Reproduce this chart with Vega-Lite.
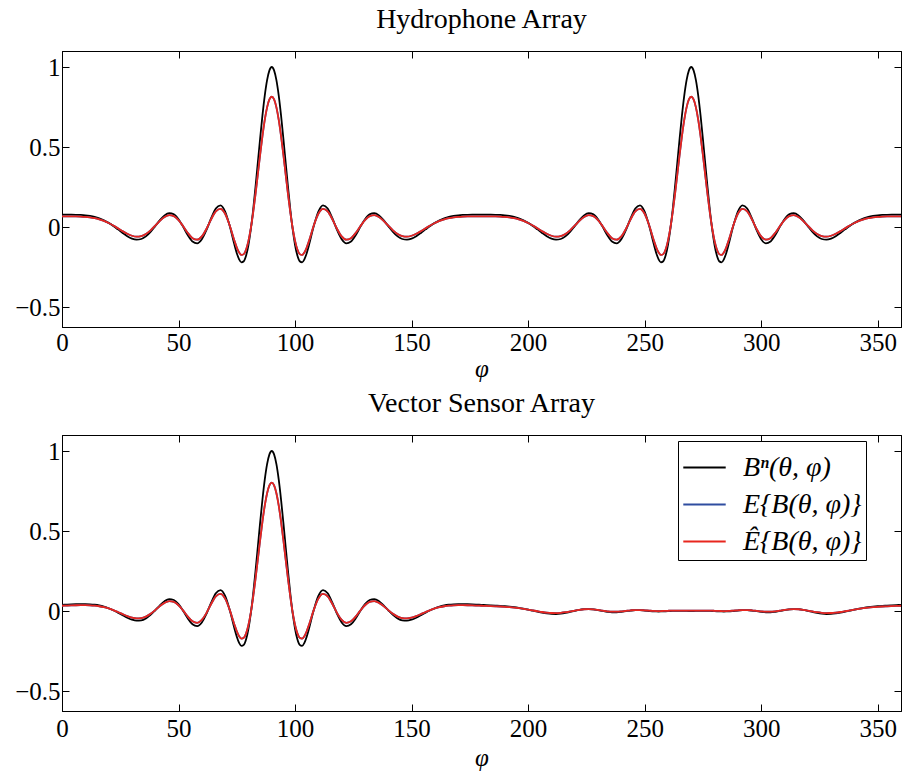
{
"$schema": "https://vega.github.io/schema/vega-lite/v6.json",
"background": "white",
"padding": {"left": 14, "top": 5, "right": 0, "bottom": 0},
"spacing": 7,
"resolve": {"scale": {"color": "independent"}, "legend": {"color": "independent"}},
"config": {
  "font": "Liberation Serif, Times New Roman, DejaVu Serif, serif",
  "view": {"stroke": "black", "strokeWidth": 1},
  "axis": {"grid": false, "labelFont": "Liberation Serif, Times New Roman, DejaVu Serif, serif", "labelFontSize": 25, "labelColor": "black", "titleFont": "Liberation Serif, Times New Roman, DejaVu Serif, serif", "titleFontSize": 25, "titleColor": "black", "titleFontWeight": "normal", "tickColor": "black", "domainColor": "black", "tickSize": -7, "labelFlush": false},
  "title": {"font": "Liberation Serif, Times New Roman, DejaVu Serif, serif", "fontSize": 28, "fontWeight": "normal", "color": "black", "anchor": "middle", "frame": "group"},
  "legend": {"labelFont": "Liberation Serif, Times New Roman, DejaVu Serif, serif"},
  "line": {"strokeWidth": 1.8}
},
"data": {"values": [
{"p":0,"h":0.0769,"hr":0.0663,"v":0.0385,"vr":0.0328},
{"p":2,"h":0.0769,"hr":0.0663,"v":0.0398,"vr":0.0338},
{"p":4,"h":0.0768,"hr":0.0662,"v":0.0411,"vr":0.0349},
{"p":6,"h":0.0764,"hr":0.0659,"v":0.0422,"vr":0.0358},
{"p":8,"h":0.0754,"hr":0.0651,"v":0.0429,"vr":0.0363},
{"p":10,"h":0.0733,"hr":0.0634,"v":0.0430,"vr":0.0364},
{"p":12,"h":0.0694,"hr":0.0602,"v":0.0419,"vr":0.0355},
{"p":14,"h":0.0633,"hr":0.0553,"v":0.0393,"vr":0.0334},
{"p":16,"h":0.0542,"hr":0.0479,"v":0.0346,"vr":0.0297},
{"p":18,"h":0.0417,"hr":0.0378,"v":0.0273,"vr":0.0238},
{"p":20,"h":0.0257,"hr":0.0248,"v":0.0172,"vr":0.0158},
{"p":22,"h":0.0065,"hr":0.0093,"v":0.0045,"vr":0.0056},
{"p":24,"h":-0.0150,"hr":-0.0082,"v":-0.0106,"vr":-0.0065},
{"p":26,"h":-0.0371,"hr":-0.0261,"v":-0.0267,"vr":-0.0194},
{"p":28,"h":-0.0572,"hr":-0.0423,"v":-0.0420,"vr":-0.0316},
{"p":30,"h":-0.0723,"hr":-0.0546,"v":-0.0542,"vr":-0.0414},
{"p":32,"h":-0.0791,"hr":-0.0601,"v":-0.0605,"vr":-0.0464},
{"p":34,"h":-0.0750,"hr":-0.0568,"v":-0.0585,"vr":-0.0448},
{"p":36,"h":-0.0585,"hr":-0.0434,"v":-0.0464,"vr":-0.0351},
{"p":38,"h":-0.0305,"hr":-0.0207,"v":-0.0246,"vr":-0.0177},
{"p":40,"h":0.0054,"hr":0.0084,"v":0.0044,"vr":0.0055},
{"p":42,"h":0.0425,"hr":0.0384,"v":0.0355,"vr":0.0304},
{"p":44,"h":0.0724,"hr":0.0626,"v":0.0613,"vr":0.0510},
{"p":46,"h":0.0866,"hr":0.0741,"v":0.0745,"vr":0.0616},
{"p":48,"h":0.0789,"hr":0.0679,"v":0.0688,"vr":0.0570},
{"p":50,"h":0.0482,"hr":0.0430,"v":0.0426,"vr":0.0361},
{"p":52,"h":0.0005,"hr":0.0044,"v":0.0004,"vr":0.0023},
{"p":54,"h":-0.0515,"hr":-0.0377,"v":-0.0466,"vr":-0.0353},
{"p":56,"h":-0.0911,"hr":-0.0698,"v":-0.0833,"vr":-0.0646},
{"p":58,"h":-0.1024,"hr":-0.0789,"v":-0.0946,"vr":-0.0737},
{"p":60,"h":-0.0769,"hr":-0.0583,"v":-0.0717,"vr":-0.0554},
{"p":62,"h":-0.0184,"hr":-0.0109,"v":-0.0173,"vr":-0.0118},
{"p":64,"h":0.0552,"hr":0.0487,"v":0.0524,"vr":0.0439},
{"p":66,"h":0.1161,"hr":0.0980,"v":0.1111,"vr":0.0909},
{"p":68,"h":0.1357,"hr":0.1139,"v":0.1308,"vr":0.1066},
{"p":70,"h":0.0969,"hr":0.0825,"v":0.0940,"vr":0.0772},
{"p":72,"h":0.0045,"hr":0.0076,"v":0.0044,"vr":0.0055},
{"p":74,"h":-0.1116,"hr":-0.0864,"v":-0.1094,"vr":-0.0855},
{"p":75,"h":-0.1635,"hr":-0.1284,"v":-0.1607,"vr":-0.1266},
{"p":76,"h":-0.2020,"hr":-0.1596,"v":-0.1990,"vr":-0.1572},
{"p":77,"h":-0.2207,"hr":-0.1748,"v":-0.2179,"vr":-0.1723},
{"p":78,"h":-0.2141,"hr":-0.1694,"v":-0.2118,"vr":-0.1674},
{"p":79,"h":-0.1785,"hr":-0.1406,"v":-0.1769,"vr":-0.1395},
{"p":80,"h":-0.1123,"hr":-0.0870,"v":-0.1114,"vr":-0.0871},
{"p":81,"h":-0.0167,"hr":-0.0095,"v":-0.0166,"vr":-0.0113},
{"p":82,"h":0.1047,"hr":0.0888,"v":0.1042,"vr":0.0854},
{"p":83,"h":0.2456,"hr":0.2029,"v":0.2447,"vr":0.1978},
{"p":84,"h":0.3978,"hr":0.3262,"v":0.3967,"vr":0.3194},
{"p":85,"h":0.5514,"hr":0.4506,"v":0.5504,"vr":0.4423},
{"p":86,"h":0.6959,"hr":0.5677,"v":0.6951,"vr":0.5581},
{"p":87,"h":0.8212,"hr":0.6692,"v":0.8206,"vr":0.6585},
{"p":88,"h":0.9179,"hr":0.7475,"v":0.9176,"vr":0.7361},
{"p":89,"h":0.979,"hr":0.797,"v":0.9789,"vr":0.7851},
{"p":90,"h":1,"hr":0.814,"v":1,"vr":0.802},
{"p":91,"h":0.979,"hr":0.797,"v":0.9789,"vr":0.7851},
{"p":92,"h":0.9179,"hr":0.7475,"v":0.9176,"vr":0.7361},
{"p":93,"h":0.8212,"hr":0.6692,"v":0.8206,"vr":0.6585},
{"p":94,"h":0.6959,"hr":0.5677,"v":0.6951,"vr":0.5581},
{"p":95,"h":0.5514,"hr":0.4506,"v":0.5504,"vr":0.4423},
{"p":96,"h":0.3978,"hr":0.3262,"v":0.3967,"vr":0.3194},
{"p":97,"h":0.2456,"hr":0.2029,"v":0.2447,"vr":0.1978},
{"p":98,"h":0.1047,"hr":0.0888,"v":0.1042,"vr":0.0854},
{"p":99,"h":-0.0167,"hr":-0.0095,"v":-0.0166,"vr":-0.0113},
{"p":100,"h":-0.1123,"hr":-0.0870,"v":-0.1114,"vr":-0.0871},
{"p":101,"h":-0.1785,"hr":-0.1406,"v":-0.1769,"vr":-0.1395},
{"p":102,"h":-0.2141,"hr":-0.1694,"v":-0.2118,"vr":-0.1674},
{"p":103,"h":-0.2207,"hr":-0.1748,"v":-0.2179,"vr":-0.1723},
{"p":104,"h":-0.2020,"hr":-0.1596,"v":-0.1990,"vr":-0.1572},
{"p":105,"h":-0.1635,"hr":-0.1284,"v":-0.1607,"vr":-0.1266},
{"p":106,"h":-0.1116,"hr":-0.0864,"v":-0.1094,"vr":-0.0855},
{"p":108,"h":0.0045,"hr":0.0076,"v":0.0044,"vr":0.0055},
{"p":110,"h":0.0969,"hr":0.0825,"v":0.0940,"vr":0.0772},
{"p":112,"h":0.1357,"hr":0.1139,"v":0.1308,"vr":0.1066},
{"p":114,"h":0.1161,"hr":0.0980,"v":0.1111,"vr":0.0909},
{"p":116,"h":0.0552,"hr":0.0487,"v":0.0524,"vr":0.0439},
{"p":118,"h":-0.0184,"hr":-0.0109,"v":-0.0173,"vr":-0.0118},
{"p":120,"h":-0.0769,"hr":-0.0583,"v":-0.0717,"vr":-0.0554},
{"p":122,"h":-0.1024,"hr":-0.0789,"v":-0.0946,"vr":-0.0737},
{"p":124,"h":-0.0911,"hr":-0.0698,"v":-0.0833,"vr":-0.0646},
{"p":126,"h":-0.0515,"hr":-0.0377,"v":-0.0466,"vr":-0.0353},
{"p":128,"h":0.0005,"hr":0.0044,"v":0.0004,"vr":0.0023},
{"p":130,"h":0.0482,"hr":0.0430,"v":0.0426,"vr":0.0361},
{"p":132,"h":0.0789,"hr":0.0679,"v":0.0688,"vr":0.0570},
{"p":134,"h":0.0866,"hr":0.0741,"v":0.0745,"vr":0.0616},
{"p":136,"h":0.0724,"hr":0.0626,"v":0.0613,"vr":0.0510},
{"p":138,"h":0.0425,"hr":0.0384,"v":0.0355,"vr":0.0304},
{"p":140,"h":0.0054,"hr":0.0084,"v":0.0044,"vr":0.0055},
{"p":142,"h":-0.0305,"hr":-0.0207,"v":-0.0246,"vr":-0.0177},
{"p":144,"h":-0.0585,"hr":-0.0434,"v":-0.0464,"vr":-0.0351},
{"p":146,"h":-0.0750,"hr":-0.0568,"v":-0.0585,"vr":-0.0448},
{"p":148,"h":-0.0791,"hr":-0.0601,"v":-0.0605,"vr":-0.0464},
{"p":150,"h":-0.0723,"hr":-0.0546,"v":-0.0542,"vr":-0.0414},
{"p":152,"h":-0.0572,"hr":-0.0423,"v":-0.0420,"vr":-0.0316},
{"p":154,"h":-0.0371,"hr":-0.0261,"v":-0.0267,"vr":-0.0194},
{"p":156,"h":-0.0150,"hr":-0.0082,"v":-0.0106,"vr":-0.0065},
{"p":158,"h":0.0065,"hr":0.0093,"v":0.0045,"vr":0.0056},
{"p":160,"h":0.0257,"hr":0.0248,"v":0.0172,"vr":0.0158},
{"p":162,"h":0.0417,"hr":0.0378,"v":0.0273,"vr":0.0238},
{"p":164,"h":0.0542,"hr":0.0479,"v":0.0346,"vr":0.0297},
{"p":166,"h":0.0633,"hr":0.0553,"v":0.0393,"vr":0.0334},
{"p":168,"h":0.0694,"hr":0.0602,"v":0.0419,"vr":0.0355},
{"p":170,"h":0.0733,"hr":0.0634,"v":0.0430,"vr":0.0364},
{"p":172,"h":0.0754,"hr":0.0651,"v":0.0429,"vr":0.0363},
{"p":174,"h":0.0764,"hr":0.0659,"v":0.0422,"vr":0.0358},
{"p":176,"h":0.0768,"hr":0.0662,"v":0.0411,"vr":0.0349},
{"p":178,"h":0.0769,"hr":0.0663,"v":0.0398,"vr":0.0338},
{"p":180,"h":0.0769,"hr":0.0663,"v":0.0385,"vr":0.0328},
{"p":182,"h":0.0769,"hr":0.0663,"v":0.0371,"vr":0.0317},
{"p":184,"h":0.0768,"hr":0.0662,"v":0.0357,"vr":0.0306},
{"p":186,"h":0.0764,"hr":0.0659,"v":0.0342,"vr":0.0294},
{"p":188,"h":0.0754,"hr":0.0651,"v":0.0325,"vr":0.0280},
{"p":190,"h":0.0733,"hr":0.0634,"v":0.0303,"vr":0.0262},
{"p":192,"h":0.0694,"hr":0.0602,"v":0.0275,"vr":0.0240},
{"p":194,"h":0.0633,"hr":0.0553,"v":0.0240,"vr":0.0212},
{"p":196,"h":0.0542,"hr":0.0479,"v":0.0196,"vr":0.0177},
{"p":198,"h":0.0417,"hr":0.0378,"v":0.0144,"vr":0.0135},
{"p":200,"h":0.0257,"hr":0.0248,"v":0.0085,"vr":0.0088},
{"p":202,"h":0.0065,"hr":0.0093,"v":0.0020,"vr":0.0036},
{"p":204,"h":-0.0150,"hr":-0.0082,"v":-0.0044,"vr":-0.0015},
{"p":206,"h":-0.0371,"hr":-0.0261,"v":-0.0104,"vr":-0.0063},
{"p":208,"h":-0.0572,"hr":-0.0423,"v":-0.0152,"vr":-0.0102},
{"p":210,"h":-0.0723,"hr":-0.0546,"v":-0.0181,"vr":-0.0125},
{"p":212,"h":-0.0791,"hr":-0.0601,"v":-0.0186,"vr":-0.0129},
{"p":214,"h":-0.0750,"hr":-0.0568,"v":-0.0165,"vr":-0.0112},
{"p":216,"h":-0.0585,"hr":-0.0434,"v":-0.0121,"vr":-0.0077},
{"p":218,"h":-0.0305,"hr":-0.0207,"v":-0.0059,"vr":-0.0027},
{"p":220,"h":0.0054,"hr":0.0084,"v":0.0010,"vr":0.0028},
{"p":222,"h":0.0425,"hr":0.0384,"v":0.0070,"vr":0.0076},
{"p":224,"h":0.0724,"hr":0.0626,"v":0.0111,"vr":0.0109},
{"p":226,"h":0.0866,"hr":0.0741,"v":0.0122,"vr":0.0118},
{"p":228,"h":0.0789,"hr":0.0679,"v":0.0101,"vr":0.0101},
{"p":230,"h":0.0482,"hr":0.0430,"v":0.0056,"vr":0.0065},
{"p":232,"h":0.0005,"hr":0.0044,"v":0.0001,"vr":0.0021},
{"p":234,"h":-0.0515,"hr":-0.0377,"v":-0.0049,"vr":-0.0019},
{"p":236,"h":-0.0911,"hr":-0.0698,"v":-0.0078,"vr":-0.0042},
{"p":238,"h":-0.1024,"hr":-0.0789,"v":-0.0078,"vr":-0.0042},
{"p":240,"h":-0.0769,"hr":-0.0583,"v":-0.0052,"vr":-0.0022},
{"p":242,"h":-0.0184,"hr":-0.0109,"v":-0.0011,"vr":0.0011},
{"p":244,"h":0.0552,"hr":0.0487,"v":0.0028,"vr":0.0042},
{"p":246,"h":0.1161,"hr":0.0980,"v":0.0050,"vr":0.0060},
{"p":248,"h":0.1357,"hr":0.1139,"v":0.0049,"vr":0.0059},
{"p":250,"h":0.0969,"hr":0.0825,"v":0.0029,"vr":0.0043},
{"p":252,"h":0.0045,"hr":0.0076,"v":0.0001,"vr":0.0021},
{"p":254,"h":-0.1116,"hr":-0.0864,"v":-0.0022,"vr":0.0002},
{"p":255,"h":-0.1635,"hr":-0.1284,"v":-0.0028,"vr":-0.0002},
{"p":256,"h":-0.2020,"hr":-0.1596,"v":-0.0030,"vr":-0.0004},
{"p":257,"h":-0.2207,"hr":-0.1748,"v":-0.0028,"vr":-0.0002},
{"p":258,"h":-0.2141,"hr":-0.1694,"v":-0.0023,"vr":0.0002},
{"p":259,"h":-0.1785,"hr":-0.1406,"v":-0.0016,"vr":0.0007},
{"p":260,"h":-0.1123,"hr":-0.0870,"v":-0.0009,"vr":0.0013},
{"p":261,"h":-0.0167,"hr":-0.0095,"v":-0.0001,"vr":0.0019},
{"p":262,"h":0.1047,"hr":0.0888,"v":0.0005,"vr":0.0024},
{"p":263,"h":0.2456,"hr":0.2029,"v":0.0009,"vr":0.0027},
{"p":264,"h":0.3978,"hr":0.3262,"v":0.0011,"vr":0.0029},
{"p":265,"h":0.5514,"hr":0.4506,"v":0.0010,"vr":0.0028},
{"p":266,"h":0.6959,"hr":0.5677,"v":0.0008,"vr":0.0026},
{"p":267,"h":0.8212,"hr":0.6692,"v":0.0006,"vr":0.0025},
{"p":268,"h":0.9179,"hr":0.7475,"v":0.0003,"vr":0.0022},
{"p":269,"h":0.979,"hr":0.797,"v":0.0001,"vr":0.0021},
{"p":270,"h":1,"hr":0.814,"v":0,"vr":0.002},
{"p":271,"h":0.979,"hr":0.797,"v":0.0001,"vr":0.0021},
{"p":272,"h":0.9179,"hr":0.7475,"v":0.0003,"vr":0.0022},
{"p":273,"h":0.8212,"hr":0.6692,"v":0.0006,"vr":0.0025},
{"p":274,"h":0.6959,"hr":0.5677,"v":0.0008,"vr":0.0026},
{"p":275,"h":0.5514,"hr":0.4506,"v":0.0010,"vr":0.0028},
{"p":276,"h":0.3978,"hr":0.3262,"v":0.0011,"vr":0.0029},
{"p":277,"h":0.2456,"hr":0.2029,"v":0.0009,"vr":0.0027},
{"p":278,"h":0.1047,"hr":0.0888,"v":0.0005,"vr":0.0024},
{"p":279,"h":-0.0167,"hr":-0.0095,"v":-0.0001,"vr":0.0019},
{"p":280,"h":-0.1123,"hr":-0.0870,"v":-0.0009,"vr":0.0013},
{"p":281,"h":-0.1785,"hr":-0.1406,"v":-0.0016,"vr":0.0007},
{"p":282,"h":-0.2141,"hr":-0.1694,"v":-0.0023,"vr":0.0002},
{"p":283,"h":-0.2207,"hr":-0.1748,"v":-0.0028,"vr":-0.0002},
{"p":284,"h":-0.2020,"hr":-0.1596,"v":-0.0030,"vr":-0.0004},
{"p":285,"h":-0.1635,"hr":-0.1284,"v":-0.0028,"vr":-0.0002},
{"p":286,"h":-0.1116,"hr":-0.0864,"v":-0.0022,"vr":0.0002},
{"p":288,"h":0.0045,"hr":0.0076,"v":0.0001,"vr":0.0021},
{"p":290,"h":0.0969,"hr":0.0825,"v":0.0029,"vr":0.0043},
{"p":292,"h":0.1357,"hr":0.1139,"v":0.0049,"vr":0.0059},
{"p":294,"h":0.1161,"hr":0.0980,"v":0.0050,"vr":0.0060},
{"p":296,"h":0.0552,"hr":0.0487,"v":0.0028,"vr":0.0042},
{"p":298,"h":-0.0184,"hr":-0.0109,"v":-0.0011,"vr":0.0011},
{"p":300,"h":-0.0769,"hr":-0.0583,"v":-0.0052,"vr":-0.0022},
{"p":302,"h":-0.1024,"hr":-0.0789,"v":-0.0078,"vr":-0.0042},
{"p":304,"h":-0.0911,"hr":-0.0698,"v":-0.0078,"vr":-0.0042},
{"p":306,"h":-0.0515,"hr":-0.0377,"v":-0.0049,"vr":-0.0019},
{"p":308,"h":0.0005,"hr":0.0044,"v":0.0001,"vr":0.0021},
{"p":310,"h":0.0482,"hr":0.0430,"v":0.0056,"vr":0.0065},
{"p":312,"h":0.0789,"hr":0.0679,"v":0.0101,"vr":0.0101},
{"p":314,"h":0.0866,"hr":0.0741,"v":0.0122,"vr":0.0118},
{"p":316,"h":0.0724,"hr":0.0626,"v":0.0111,"vr":0.0109},
{"p":318,"h":0.0425,"hr":0.0384,"v":0.0070,"vr":0.0076},
{"p":320,"h":0.0054,"hr":0.0084,"v":0.0010,"vr":0.0028},
{"p":322,"h":-0.0305,"hr":-0.0207,"v":-0.0059,"vr":-0.0027},
{"p":324,"h":-0.0585,"hr":-0.0434,"v":-0.0121,"vr":-0.0077},
{"p":326,"h":-0.0750,"hr":-0.0568,"v":-0.0165,"vr":-0.0112},
{"p":328,"h":-0.0791,"hr":-0.0601,"v":-0.0186,"vr":-0.0129},
{"p":330,"h":-0.0723,"hr":-0.0546,"v":-0.0181,"vr":-0.0125},
{"p":332,"h":-0.0572,"hr":-0.0423,"v":-0.0152,"vr":-0.0102},
{"p":334,"h":-0.0371,"hr":-0.0261,"v":-0.0104,"vr":-0.0063},
{"p":336,"h":-0.0150,"hr":-0.0082,"v":-0.0044,"vr":-0.0015},
{"p":338,"h":0.0065,"hr":0.0093,"v":0.0020,"vr":0.0036},
{"p":340,"h":0.0257,"hr":0.0248,"v":0.0085,"vr":0.0088},
{"p":342,"h":0.0417,"hr":0.0378,"v":0.0144,"vr":0.0135},
{"p":344,"h":0.0542,"hr":0.0479,"v":0.0196,"vr":0.0177},
{"p":346,"h":0.0633,"hr":0.0553,"v":0.0240,"vr":0.0212},
{"p":348,"h":0.0694,"hr":0.0602,"v":0.0275,"vr":0.0240},
{"p":350,"h":0.0733,"hr":0.0634,"v":0.0303,"vr":0.0262},
{"p":352,"h":0.0754,"hr":0.0651,"v":0.0325,"vr":0.0280},
{"p":354,"h":0.0764,"hr":0.0659,"v":0.0342,"vr":0.0294},
{"p":356,"h":0.0768,"hr":0.0662,"v":0.0357,"vr":0.0306},
{"p":358,"h":0.0769,"hr":0.0663,"v":0.0371,"vr":0.0317},
{"p":360,"h":0.0769,"hr":0.0663,"v":0.0385,"vr":0.0328}
]},
"vconcat": [
{
  "width": 839, "height": 276,
  "title": {"text": "Hydrophone Array", "offset": 17},
  "resolve": {"axis": {"x": "independent", "y": "independent"}},
  "layer": [
    {"mark": {"type": "line", "color": "black", "interpolate": "monotone"},
     "encoding": {
       "x": {"field": "p", "type": "quantitative", "scale": {"domain": [0, 360], "nice": false, "zero": false}, "axis": {"orient": "bottom", "values": [0,50,100,150,200,250,300,350], "labelPadding": 10, "title": "φ", "titleFontStyle": "italic", "titlePadding": 1}},
       "y": {"field": "h", "type": "quantitative", "scale": {"domain": [-0.625, 1.1], "nice": false, "zero": false}, "axis": {"orient": "left", "values": [-0.5, 0, 0.5, 1], "format": "~g", "labelPadding": 9, "title": null}}
     }},
    {"mark": {"type": "line", "color": "#2f4da0", "interpolate": "monotone"},
     "encoding": {
       "x": {"field": "p", "type": "quantitative", "scale": {"domain": [0, 360], "nice": false, "zero": false}, "axis": {"orient": "top", "values": [0,50,100,150,200,250,300,350], "labels": false, "title": null}},
       "y": {"field": "hr", "type": "quantitative", "scale": {"domain": [-0.625, 1.1], "nice": false, "zero": false}, "axis": {"orient": "right", "values": [-0.5, 0, 0.5, 1], "labels": false, "title": null}}
     }},
    {"mark": {"type": "line", "color": "#e8261e", "interpolate": "monotone"},
     "encoding": {
       "x": {"field": "p", "type": "quantitative", "axis": null},
       "y": {"field": "hr", "type": "quantitative", "axis": null}
     }}
  ]
},
{
  "width": 839, "height": 276,
  "title": {"text": "Vector Sensor Array", "offset": 17},
  "resolve": {"axis": {"x": "independent", "y": "independent"}},
  "layer": [
    {"mark": {"type": "line", "interpolate": "monotone"},
     "encoding": {
       "x": {"field": "p", "type": "quantitative", "scale": {"domain": [0, 360], "nice": false, "zero": false}, "axis": {"orient": "bottom", "values": [0,50,100,150,200,250,300,350], "labelPadding": 12, "title": "φ", "titleFontStyle": "italic", "titlePadding": 4}},
       "y": {"field": "v", "type": "quantitative", "scale": {"domain": [-0.625, 1.1], "nice": false, "zero": false}, "axis": {"orient": "left", "values": [-0.5, 0, 0.5, 1], "format": "~g", "labelPadding": 9, "title": null}},
       "color": {"datum": "Bⁿ(θ, φ)", "type": "nominal", "scale": {"domain": ["Bⁿ(θ, φ)", "E{B(θ, φ)}", "Ê{B(θ, φ)}"], "range": ["black", "#2f4da0", "#e8261e"]},
         "legend": {"title": null, "orient": "none", "legendX": 616, "legendY": 6, "strokeColor": "black", "fillColor": "white", "padding": 4, "symbolType": "stroke", "symbolSize": 1800, "symbolStrokeWidth": 1.5, "labelFont": "Liberation Serif, Times New Roman, DejaVu Serif, serif", "labelFontSize": 28, "labelFontStyle": "italic", "labelColor": "black", "labelOffset": 16, "rowPadding": -8, "labelLimit": 400}}
     }},
    {"mark": {"type": "line", "interpolate": "monotone"},
     "encoding": {
       "x": {"field": "p", "type": "quantitative", "scale": {"domain": [0, 360], "nice": false, "zero": false}, "axis": {"orient": "top", "values": [0,50,100,150,200,250,300,350], "labels": false, "title": null}},
       "y": {"field": "vr", "type": "quantitative", "scale": {"domain": [-0.625, 1.1], "nice": false, "zero": false}, "axis": {"orient": "right", "values": [-0.5, 0, 0.5, 1], "labels": false, "title": null}},
       "color": {"datum": "E{B(θ, φ)}", "type": "nominal"}
     }},
    {"mark": {"type": "line", "interpolate": "monotone"},
     "encoding": {
       "x": {"field": "p", "type": "quantitative", "axis": null},
       "y": {"field": "vr", "type": "quantitative", "axis": null},
       "color": {"datum": "Ê{B(θ, φ)}", "type": "nominal"}
     }}
  ]
}
]
}
